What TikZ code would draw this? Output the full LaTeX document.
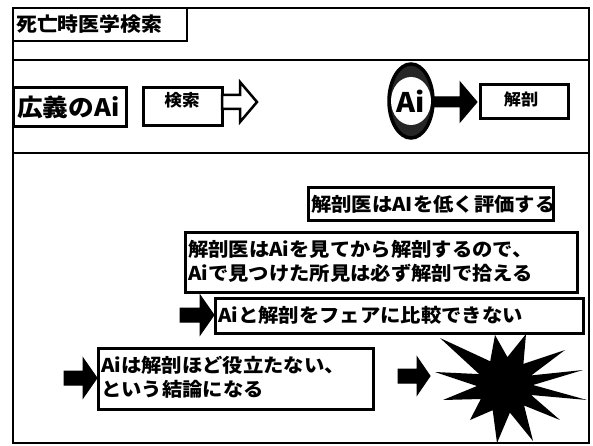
\documentclass[tikz,border=0pt]{standalone}
\usepackage{fontspec}
\setmainfont{Noto Sans CJK JP}[FakeStretch=1.07]
\usetikzlibrary{shapes.geometric}
\newcommand{\BArrow}[7]{%
  \draw[#1] (#2,#4-#5) -- (#3-#7,#4-#5) -- (#3-#7,#4-#6) -- (#3,#4) -- (#3-#7,#4+#6) -- (#3-#7,#4+#5) -- (#2,#4+#5) -- cycle;}
\tikzset{
  box/.style={draw=black, line width=3pt, fill=white, inner sep=0pt, rectangle},
  frameline/.style={draw=black, line width=2pt},
  txt/.style={inner sep=0pt, anchor=west, font=\bfseries\fontsize{19}{24}\selectfont, align=left},
  blk/.style={fill=black, draw=black, line width=1pt, line join=miter},
  opn/.style={fill=white, draw=black, line width=2.5pt, line join=miter},
}
\begin{document}
\begin{tikzpicture}[x=1pt,y=-1pt]
\useasboundingbox (0,0) rectangle (593,446);
% outer frame
\draw[frameline] (13,8) rectangle (589,443);
\draw[frameline] (13,60) -- (589,60);
\draw[frameline] (13,153) -- (589,153);
% title
\node[box, line width=2pt, minimum width=174pt, minimum height=33pt] (title) at (99.5,24.5) {};
\node[txt, font=\bfseries\fontsize{19.5}{22}\selectfont] (titlet) at (16,24) {死亡時医学検索};
% upper row
\node[box, minimum width=113pt, minimum height=39pt] (kogi) at (69.5,107.5) {};
\node[txt, font=\bfseries\fontsize{24}{26}\selectfont] (kogit) at (17,107) {広義のAi};
\node[box, minimum width=79pt, minimum height=38pt] (kensaku) at (182.5,107) {};
\node[inner sep=0pt, font=\bfseries\fontsize{16.5}{18}\selectfont] (kensakut) at (182,100) {検索};
\BArrow{opn}{222}{257}{102}{7}{20}{17}
\node[ellipse, draw=black, line width=3.5pt, fill=black!85, minimum width=44pt, minimum height=74pt, inner sep=0pt,
  path picture={\fill[white] (path picture bounding box.center) ellipse (20pt and 24pt);}] (ai) at (411,101) {};
\node[inner sep=0pt, font=\bfseries\fontsize{27}{28}\selectfont] (ait) at (ai.center) {Ai};
\BArrow{blk}{433}{477}{102}{5}{20}{17}
\node[box, minimum width=88pt, minimum height=34pt] (kaibo) at (524,102) {};
\node[inner sep=0pt, font=\bfseries\fontsize{16}{18}\selectfont] (kaibot) at (521,99) {解剖};
% lower section
\node[box, minimum width=245pt, minimum height=32pt] (b1) at (430.5,204) {};
\node[txt] (b1t) at (311,204) {解剖医はAIを低く評価する};
\node[box, minimum width=392pt, minimum height=60pt] (b2) at (381,262) {};
\node[txt] (b2t) at (188,261) {解剖医はAiを見てから解剖するので、\\Aiで見つけた所見は必ず解剖で拾える};
\BArrow{blk}{180}{214}{315}{7}{20}{14}
\node[box, minimum width=368pt, minimum height=35pt] (b3) at (399,315.5) {};
\node[txt] (b3t) at (218,315) {Aiと解剖をフェアに比較できない};
\BArrow{blk}{64}{97}{378}{7}{20}{14}
\node[box, minimum width=275pt, minimum height=61pt] (b4) at (235.5,378.5) {};
\node[txt] (b4t) at (101,377) {Aiは解剖ほど役立たない、\\という結論になる};
\BArrow{blk}{398}{430}{376}{7}{19}{13}
% starburst
\fill[black] (440,338) -- (490.2,361.3) -- (495,335) -- (507.4,357.1) -- (526,334) -- (523.4,363.9)
  -- (565,350) -- (531.3,375.4) -- (583,370) -- (533,385) -- (587,400) -- (531.1,395.0)
  -- (560,420) -- (524.1,405.5) -- (533,441) -- (509.9,412.6) -- (497,443) -- (492.7,410.2)
  -- (470,420) -- (480.8,399) -- (443,400) -- (477,386) -- (435,372) -- (479.2,374.1) -- cycle;
\end{tikzpicture}
\end{document}
